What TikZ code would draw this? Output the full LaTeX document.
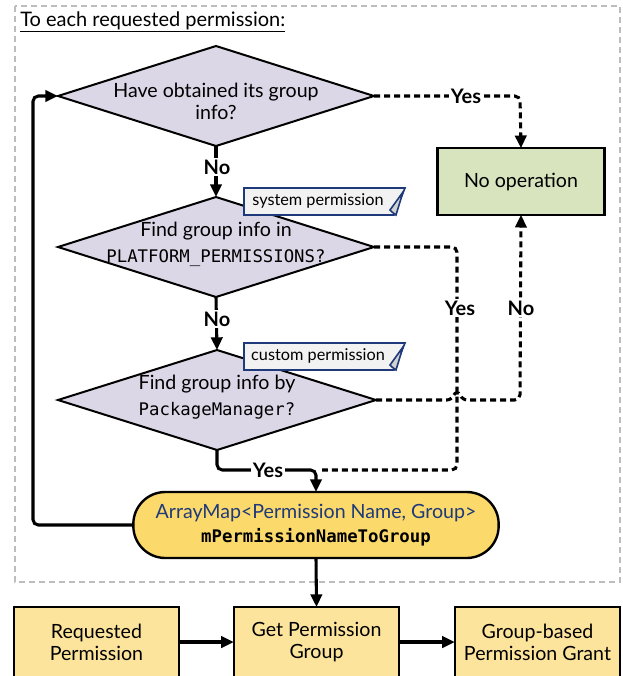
\documentclass[tikz,border=0pt]{standalone}
\usepackage{fontspec}
\setmainfont{Lato}
\setmonofont{DejaVu Sans Mono}
\usetikzlibrary{shapes.geometric,arrows.meta,calc}
\definecolor{dia}{HTML}{DCD7E6}
\definecolor{noop}{HTML}{D8E4BD}
\definecolor{amap}{HTML}{FBD96B}
\definecolor{bbox}{HTML}{FDE49C}
\definecolor{navy}{HTML}{1F3A7A}
\definecolor{notefill}{HTML}{F2F2F2}
\definecolor{bord}{HTML}{BDBDBD}
\newcommand{\mainsz}{\fontsize{14.7}{16.5}\selectfont}
\newcommand{\monosz}{\fontsize{13}{16}\selectfont}
\tikzset{
  dec/.style={diamond,draw,line width=1.5pt,fill=dia,minimum width=237pt,minimum height=75pt,inner sep=0pt,outer sep=0pt},
  dectext/.style={align=center,font=\mainsz,inner sep=0pt},
  plainbox/.style={draw,line width=1.8pt,outer sep=0pt,align=center,font=\mainsz},
  notebox/.style={font=\fontsize{12.2}{14}\selectfont,inner sep=0pt},
  noteshape/.style={draw=navy,line width=1.2pt,fill=notefill},
  conn/.style={line width=2.3pt,rounded corners=4pt},
  arr/.style={conn,-{Triangle[length=9.5pt,width=8.5pt]}},
  dconn/.style={line width=2.3pt,dash pattern=on 4.5pt off 3pt,rounded corners=4pt},
  darr/.style={dconn,-{Triangle[length=9.5pt,width=8.5pt]}},
  lbl/.style={font=\bfseries\fontsize{15}{17}\selectfont,fill=white,inner sep=1.5pt},
}
\begin{document}
\begin{tikzpicture}[x=0.75pt,y=-0.75pt]
\useasboundingbox (0,0) rectangle (623,676);
\clip (0,0) rectangle (623,676);
% outer dashed frame
\draw[bord,line width=1.1pt,dash pattern=on 4.5pt off 3pt] (15,6) rectangle (620,582);
\node[anchor=base west,inner sep=0pt,font=\fontsize{15}{17}\selectfont] (title) at (20,26) {\underline{To each requested permission:}};

% decisions
\node[dec] (d1) at (216,96) {};
\node[dectext] (t1) at (216,101) {Have obtained its group\\info?};
\node[dec] (d2) at (216,247) {};
\node[dectext] (t2) at (216,244) {Find group info in\\[3pt]{\monosz\texttt{PLATFORM\_PERMISSIONS?}}};
\node[dec,minimum width=238.5pt] (d3) at (217,400) {};
\node[dectext] (t3) at (217,397) {Find group info by\\[3pt]{\monosz\texttt{PackageManager?}}};

% notes
\draw[noteshape] (244,188) -- (405,188) -- (394,215) -- (244,215) -- cycle;
\draw[noteshape,fill=lightgray!70] (403,192) -- (390,210) .. controls (392,212) .. (396,215) -- cycle;
\node[notebox] (n1) at (318,201) {system permission};
\draw[noteshape] (244,343) -- (405,343) -- (394,370) -- (244,370) -- cycle;
\draw[noteshape,fill=lightgray!70] (403,347) -- (390,365) .. controls (392,367) .. (396,370) -- cycle;
\node[notebox] (n2) at (318,356) {custom permission};

% no operation
\node[plainbox,fill=noop,minimum width=125pt,minimum height=50pt] (noop) at (521,181.5) {No operation};

% ArrayMap
\node[draw,line width=1.8pt,fill=amap,rounded corners=24pt,minimum width=274pt,minimum height=49.5pt,outer sep=0pt,align=center,font=\mainsz] (amap) at (316,525) {\textcolor{navy}{ArrayMap<Permission Name, Group>}\\[1pt]{\monosz\texttt{\bfseries mPermissionNameToGroup}}};

% bottom boxes
\node[plainbox,fill=bbox,minimum width=124pt,minimum height=52.5pt] (rp) at (96.5,642) {Requested\\Permission};
\node[plainbox,fill=bbox,minimum width=124pt,minimum height=52.5pt] (gpg) at (316.5,642) {Get Permission\\Group};
\node[plainbox,fill=bbox,minimum width=124pt,minimum height=52.5pt] (gbp) at (537.5,642) {Group-based\\Permission Grant};

% connectors
\coordinate (c1) at (520,96);
\draw[darr] (d1.east) -- (c1) -- (noop.north);
\node[lbl] (y1) at (466,96) {Yes};

\draw[arr] (d1.south) -- (d2.north);
\node[lbl] (no1) at (217,167) {No};
\draw[arr] (d2.south) -- (d3.north);
\node[lbl] (no2) at (217,319) {No};

\coordinate (c2) at (457,247);
\coordinate (c3) at (457,470);
\coordinate (c4) at (322,470);
\draw[dconn] (d2.east) -- (c2) -- (c3) -- (c4);
\node[lbl] (y2) at (460,308) {Yes};

\coordinate (h1) at (452,400);
\coordinate (h2) at (462,400);
\coordinate (c5) at (520,400);
\draw[darr] (d3.east) -- (h1) .. controls (455,392) and (459,392) .. (h2) -- (c5) -- (noop.south);
\node[lbl] (n3) at (521,308) {No};

\coordinate (c6) at (217,470);
\coordinate (c7) at (316,470);
\draw[arr] (d3.south) -- (c6) -- (c7) -- (amap.north);
\node[lbl] (y3) at (268,470) {Yes};

\coordinate (c8) at (33,525);
\coordinate (c9) at (33,96);
\draw[arr] (amap.west) -- (c8) -- (c9) -- (d1.west);

\draw[arr] (amap.south) -- (gpg.north);
\draw[arr] (rp.east) -- (gpg.west);
\draw[arr] (gpg.east) -- (gbp.west);
\end{tikzpicture}
\end{document}
